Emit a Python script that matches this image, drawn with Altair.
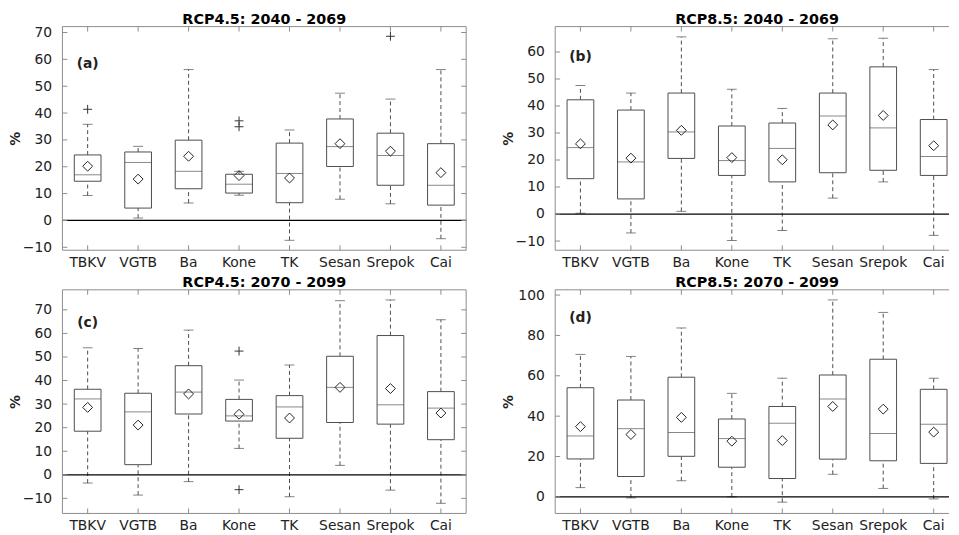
import altair as alt
import pandas as pd

basins = ["TBKV", "VGTB", "Ba", "Kone", "TK", "Sesan", "Srepok", "Cai"]

# Panel (a) RCP4.5: 2040 - 2069
lo_a = [9.3, 0.9, 6.5, 9.4, -7.4, 7.9, 6.2, -6.8]
q1_a = [14.6, 4.6, 11.8, 10.2, 6.6, 20.1, 13.1, 5.7]
med_a = [17.0, 21.6, 18.3, 13.5, 17.5, 27.5, 24.2, 13.1]
q3_a = [24.4, 25.5, 29.9, 17.2, 28.8, 37.8, 32.5, 28.6]
hi_a = [35.8, 27.6, 56.2, 18.3, 33.7, 47.4, 45.2, 56.2]
mean_a = [20.2, 15.4, 23.9, 16.7, 15.8, 28.6, 25.8, 17.8]
out_basin_a = ["TBKV", "Kone", "Kone", "Srepok"]
out_val_a = [41.4, 37.1, 34.9, 68.6]

# Panel (b) RCP8.5: 2040 - 2069
lo_b = [0.3, -7.0, 1.0, -9.8, -6.1, 5.9, 11.9, -7.9]
q1_b = [13.1, 5.6, 20.6, 14.3, 11.9, 15.3, 16.2, 14.3]
med_b = [24.6, 19.3, 30.4, 19.8, 24.3, 36.3, 31.9, 21.3]
q3_b = [42.3, 38.5, 44.8, 32.6, 33.7, 44.8, 54.5, 35.0]
hi_b = [47.6, 44.8, 65.6, 46.2, 39.1, 64.9, 65.1, 53.5]
mean_b = [26.0, 20.7, 31.0, 20.9, 20.1, 33.0, 36.5, 25.3]
out_basin_b = []
out_val_b = []

# Panel (c) RCP4.5: 2070 - 2099
lo_c = [-3.5, -8.6, -2.9, 11.2, -9.3, 4.0, -6.5, -12.1]
q1_c = [18.5, 4.3, 25.8, 22.8, 15.5, 22.2, 21.5, 14.9]
med_c = [32.2, 26.7, 35.1, 25.0, 28.8, 37.1, 29.7, 28.3]
q3_c = [36.3, 34.6, 46.3, 32.0, 33.6, 50.3, 59.1, 35.3]
hi_c = [53.9, 53.6, 61.4, 40.2, 46.6, 73.9, 74.2, 65.8]
mean_c = [28.6, 21.1, 34.3, 25.7, 24.1, 37.1, 36.6, 26.2]
out_basin_c = ["Kone", "Kone"]
out_val_c = [52.5, -6.3]

# Panel (d) RCP8.5: 2070 - 2099
lo_d = [4.6, -0.5, 8.0, 0.0, -2.6, 11.2, 4.2, -1.0]
q1_d = [18.8, 10.1, 20.1, 14.7, 9.1, 18.7, 17.9, 16.6]
med_d = [30.2, 33.8, 31.9, 28.9, 36.5, 48.5, 31.4, 36.0]
q3_d = [54.1, 48.0, 59.3, 38.6, 44.8, 60.4, 68.2, 53.3]
hi_d = [70.6, 69.6, 83.7, 51.3, 58.8, 97.6, 91.4, 58.8]
mean_d = [34.8, 30.9, 39.4, 27.6, 27.9, 44.8, 43.5, 32.1]
out_basin_d = []
out_val_d = []

PW = 408
H = 226
FRAME = "#8c8c8c"
BOX = "#4d4d4d"
TXT = "#222222"
FONT = "DejaVu Sans"
PLUS = "M-1,0L1,0M0,-1L0,1"


def panel(title, letter, letter_y, lo, q1, med, q3, hi, mean, ob, ov,
          ydom, yticks, width, right_frame):
    df = pd.DataFrame(dict(basin=basins, lo=lo, q1=q1, med=med, q3=q3, hi=hi, mean=mean))
    odf = pd.DataFrame(dict(basin=ob, v=ov))
    tdf = pd.DataFrame(dict(t=yticks))
    bdf = pd.DataFrame(dict(basin=basins))
    one = pd.DataFrame(dict(k=[0]))

    xs = alt.Scale(type="band", domain=basins, range=[0, PW], paddingInner=0, paddingOuter=0)
    ys = alt.Scale(domain=ydom, nice=False, zero=False)
    yax = alt.Axis(title="%", values=yticks, ticks=False, domain=False, grid=False,
                   labelPadding=11, labelFont=FONT, labelFontSize=14, labelColor=TXT,
                   titleFont=FONT, titleFontSize=14, titleFontWeight="bold", titleColor=TXT,
                   titleAngle=270, titleX=-47, titleY=H / 2, titleAlign="center",
                   titleBaseline="middle")

    def X():
        return alt.X("basin:N", scale=xs, axis=None)

    def Y(f):
        return alt.Y(f, type="quantitative", scale=ys, axis=yax, title="%")

    base = alt.Chart(df)
    layers = [
        base.mark_rule(color=BOX, strokeDash=[4, 3], strokeWidth=1).encode(
            x=X(), y=Y("q3"), y2="hi"),
        base.mark_rule(color=BOX, strokeDash=[4, 3], strokeWidth=1).encode(
            x=X(), y=Y("lo"), y2="q1"),
        base.mark_tick(color=BOX, size=10, thickness=1).encode(x=X(), y=Y("hi")),
        base.mark_tick(color=BOX, size=10, thickness=1).encode(x=X(), y=Y("lo")),
        base.mark_bar(size=27, fill="white", stroke=BOX, strokeWidth=1).encode(
            x=X(), y=Y("q1"), y2="q3"),
        base.mark_tick(color="#555555", size=27, thickness=1).encode(x=X(), y=Y("med")),
        base.mark_point(shape="diamond", size=100, filled=False, color="#222222",
                        strokeWidth=1, opacity=1).encode(x=X(), y=Y("mean")),
    ]
    if len(ob):
        layers.append(alt.Chart(odf).mark_point(shape=PLUS, size=80, filled=False,
                                                color="#333333", strokeWidth=1, opacity=1)
                      .encode(x=X(), y=Y("v")))
    zdf = pd.DataFrame(dict(z=[0]))
    layers += [
        alt.Chart(zdf).mark_rule(color="black", strokeWidth=1.3).encode(y=Y("z")),
        # frame
        alt.Chart(one).mark_rule(color=FRAME, strokeWidth=1).encode(
            x=alt.value(0), x2=alt.value(width), y=alt.value(0)),
        alt.Chart(one).mark_rule(color=FRAME, strokeWidth=1).encode(
            x=alt.value(0), x2=alt.value(width), y=alt.value(H)),
        alt.Chart(one).mark_rule(color=FRAME, strokeWidth=1).encode(
            x=alt.value(0), y=alt.value(0), y2=alt.value(H)),
        # inward ticks
        alt.Chart(tdf).mark_rule(color=FRAME, strokeWidth=1).encode(
            x=alt.value(0), x2=alt.value(5), y=Y("t")),
        alt.Chart(bdf).mark_rule(color=FRAME, strokeWidth=1).encode(
            x=X(), y=alt.value(H), y2=alt.value(H - 5)),
        alt.Chart(bdf).mark_rule(color=FRAME, strokeWidth=1).encode(
            x=X(), y=alt.value(0), y2=alt.value(5)),
        # category labels
        alt.Chart(bdf).mark_text(font=FONT, fontSize=14, color=TXT, baseline="top",
                                 align="center").encode(
            x=X(), y=alt.value(H + 6), text="basin:N"),
        # panel title
        alt.Chart(one).mark_text(font=FONT, fontSize=14.5, fontWeight="bold", color="black",
                                 baseline="alphabetic", align="center").encode(
            x=alt.value(PW / 2), y=alt.value(-3), text=alt.value(title)),
    ]
    if right_frame:
        layers.append(alt.Chart(one).mark_rule(color=FRAME, strokeWidth=1).encode(
            x=alt.value(width), y=alt.value(0), y2=alt.value(H)))
        layers.append(alt.Chart(tdf).mark_rule(color=FRAME, strokeWidth=1).encode(
            x=alt.value(width - 5), x2=alt.value(width), y=Y("t")))
    ldf = pd.DataFrame(dict(basin=["TBKV"], ly=[letter_y], lab=[letter]))
    layers.append(alt.Chart(ldf).mark_text(font=FONT, fontSize=14, fontWeight="bold",
                                           color=TXT).encode(x=X(), y=Y("ly"), text="lab:N"))
    return alt.layer(*layers).properties(width=width, height=H)


pa = panel("RCP4.5: 2040 - 2069", "(a)", 58.2, lo_a, q1_a, med_a, q3_a, hi_a, mean_a,
           out_basin_a, out_val_a, [-11.1, 72.2], list(range(-10, 71, 10)), PW, True)
pb = panel("RCP8.5: 2040 - 2069", "(b)", 58.2, lo_b, q1_b, med_b, q3_b, hi_b, mean_b,
           out_basin_b, out_val_b, [-13.4, 69.4], list(range(-10, 61, 10)), 398, False)
pc = panel("RCP4.5: 2070 - 2099", "(c)", 64.4, lo_c, q1_c, med_c, q3_c, hi_c, mean_c,
           out_basin_c, out_val_c, [-16.4, 78.5], list(range(-10, 71, 10)), PW, True)
pd_ = panel("RCP8.5: 2070 - 2099", "(d)", 88.7, lo_d, q1_d, med_d, q3_d, hi_d, mean_d,
            out_basin_d, out_val_d, [-8.2, 102.6], list(range(0, 101, 20)), 398, False)

chart = alt.concat(pa, pb, pc, pd_, columns=2, spacing={"row": 40, "column": 90},
                   bounds="flush").properties(
    padding={"left": 0, "top": 0, "right": 0, "bottom": 0}
).configure_view(stroke="transparent")

chart.save("out.html", embed_options={"renderer": "svg", "actions": False})
